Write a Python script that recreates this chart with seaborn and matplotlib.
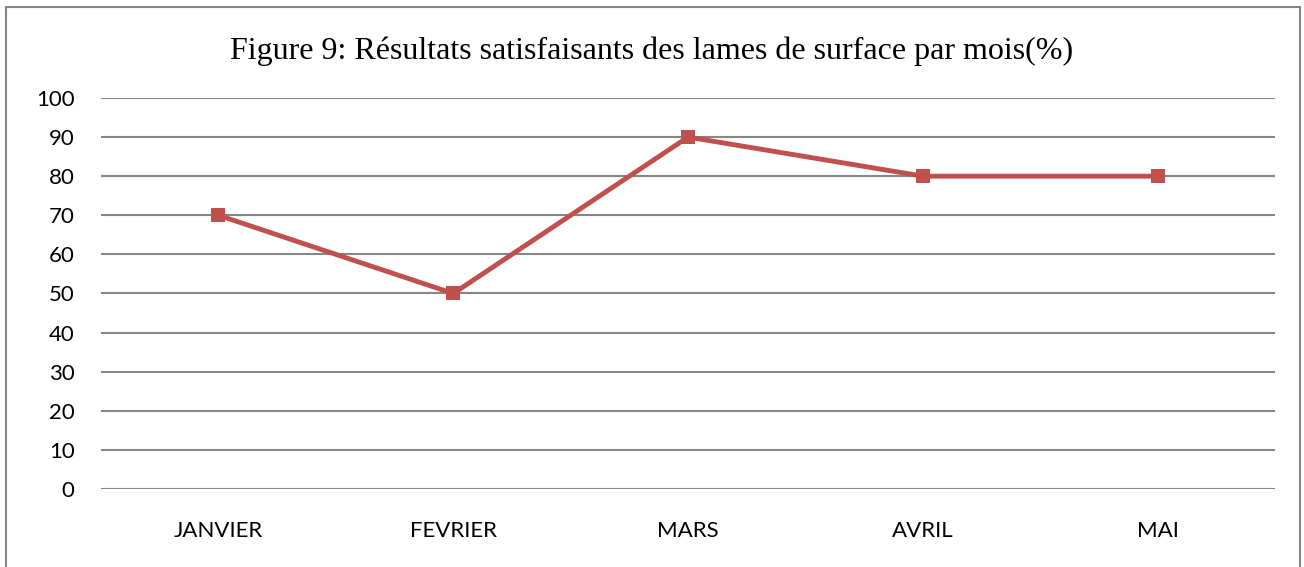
import matplotlib
matplotlib.use("Agg")
import matplotlib.pyplot as plt
import seaborn as sns
import pandas as pd
from matplotlib.patches import Rectangle

months = ["JANVIER", "FEVRIER", "MARS", "AVRIL", "MAI"]
values = [70, 50, 90, 80, 80]
yticks = [0, 10, 20, 30, 40, 50, 60, 70, 80, 90, 100]
title = "Figure 9: Résultats satisfaisants des lames de surface par mois(%)"

sns.set_style("white")
plt.rcParams['font.family'] = ['Lato', 'DejaVu Sans']

df = pd.DataFrame({"mois": months, "pct": values})

fig = plt.figure(figsize=(13.04, 5.67), dpi=100)
ax = fig.add_axes([0.0775, 0.1376, 0.9003, 0.6896])

sns.lineplot(data=df, x="mois", y="pct", ax=ax, color="#C0504D", linewidth=3.5,
             marker="s", markersize=10.5, markeredgewidth=0, sort=False, zorder=3)

ax.set_xlim(-0.5, len(months) - 0.5)
ax.set_ylim(0, 100)
ax.set_yticks(yticks)
ax.set_yticklabels([str(v) for v in yticks])
for y in yticks:
    ax.axhline(y, color="#868686", linewidth=1.5, zorder=1)
for s in ax.spines.values():
    s.set_visible(False)
ax.tick_params(axis="both", length=0, labelsize=16, colors="black")
ax.tick_params(axis="y", pad=19)
ax.tick_params(axis="x", pad=23)
ax.set_xlabel("")
ax.set_ylabel("")

fig.text(0.5 + 0.0, 1 - 51 / 567, title, ha="center", va="center",
         fontsize=23, family="Liberation Serif", color="black")

fig.patches.append(Rectangle((6 / 1304, -0.01), 1294 / 1304, 1 - 7 / 567 + 0.01,
                             transform=fig.transFigure, fill=False,
                             edgecolor="#868686", linewidth=1.5))

fig.savefig("out.png", dpi=100)
